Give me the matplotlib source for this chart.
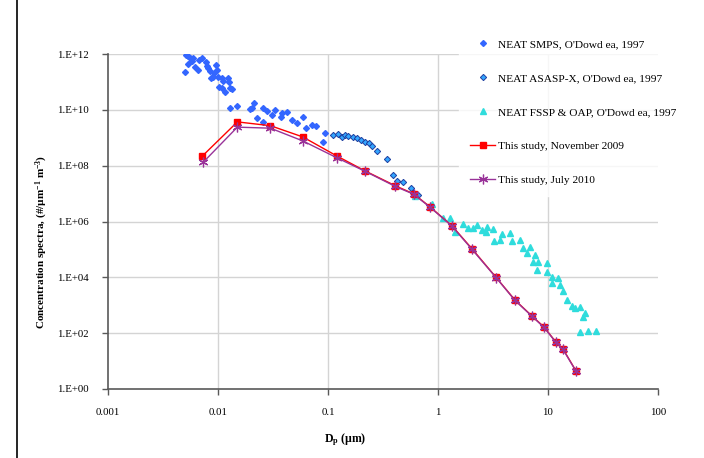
import matplotlib
matplotlib.use("Agg")
import matplotlib.pyplot as plt
from matplotlib.lines import Line2D
import numpy as np

plt.rcParams['font.family'] = ['Liberation Serif', 'DejaVu Serif']
plt.rcParams['mathtext.fontset'] = 'custom'
plt.rcParams['mathtext.rm'] = 'Liberation Serif'
plt.rcParams['mathtext.bf'] = 'Liberation Serif:bold'
plt.rcParams['mathtext.it'] = 'Liberation Serif:italic'

# NEAT SMPS, O'Dowd ea, 1997
smps_x = [0.0051, 0.0053, 0.0056, 0.0059, 0.0058, 0.0053, 0.0050, 0.0062, 0.0066, 0.0067,
          0.0072, 0.0078, 0.0079, 0.0081, 0.0085, 0.0096, 0.0098, 0.0092, 0.0086, 0.0090,
          0.0100, 0.0109, 0.0111, 0.0123, 0.0126, 0.0102, 0.0109, 0.0116, 0.0129, 0.0134,
          0.0129, 0.0149, 0.0195, 0.0212, 0.0204, 0.0226, 0.0257, 0.0257, 0.0279, 0.031,
          0.033, 0.038, 0.042, 0.037, 0.047, 0.052, 0.059, 0.063, 0.072, 0.078,
          0.094, 0.090]
smps_y = [9.3e11, 8.7e11, 7.3e11, 7.3e11, 5.7e11, 4.5e11, 2.3e11, 3.5e11, 2.7e11, 6.2e11,
          7.3e11, 5.3e11, 3.8e11, 3.2e11, 2.5e11, 4.1e11, 2.7e11, 2.1e11, 1.4e11, 1.5e11,
          1.5e11, 1.4e11, 1.1e11, 1.4e11, 1.0e11, 6.6e10, 6.1e10, 4.4e10, 6.1e10, 5.6e10,
          1.2e10, 1.4e10, 1.1e10, 1.7e10, 1.2e10, 5.2e9, 1.2e10, 3.7e9, 9.2e9, 6.6e9,
          1.0e10, 7.8e9, 8.5e9, 5.6e9, 4.4e9, 3.4e9, 5.6e9, 2.3e9, 2.9e9, 2.7e9,
          1.5e9, 7.1e8]

# NEAT ASASP-X, O'Dowd ea, 1997
asasp_x = [0.111, 0.123, 0.134, 0.143, 0.152, 0.169, 0.184, 0.20, 0.217, 0.236,
           0.251, 0.279, 0.344, 0.39, 0.424, 0.481, 0.569, 0.593, 0.658]
asasp_y = [1.3e9, 1.4e9, 1.07e9, 1.3e9, 1.2e9, 1.07e9, 1.0e9, 8.4e8, 7.1e8, 6.6e8,
           5.1e8, 3.4e8, 1.7e8, 4.7e7, 2.9e7, 2.6e7, 1.6e7, 1.07e7, 8.9e6]

# NEAT FSSP & OAP, O'Dowd ea, 1997
fssp_x = [0.62, 0.88, 1.11, 1.29, 1.43, 1.69, 1.87, 2.08, 2.26, 2.51,
          2.79, 3.16, 2.73, 3.82, 3.23, 3.66, 4.52, 4.71, 5.56, 5.93,
          6.44, 6.86, 7.62, 8.11, 7.31, 7.94, 9.8, 9.8, 10.9, 12.3,
          10.9, 12.9, 13.7, 14.9, 16.5, 17.6, 19.5, 21.7, 20.8, 19.5,
          23.1, 27.3]
fssp_y = [8.3e6, 4.3e6, 1.35e6, 1.35e6, 4.2e5, 8.2e5, 5.9e5, 5.9e5, 7.6e5, 5.0e5,
          6.4e5, 5.4e5, 4.2e5, 3.6e5, 2.0e5, 2.2e5, 3.9e5, 2.0e5, 2.2e5, 1.1e5,
          7.5e4, 1.2e5, 6.3e4, 3.5e4, 3.5e4, 1.85e4, 3.3e4, 1.55e4, 1.0e4, 9.5e3,
          6.3e3, 5.3e3, 3.2e3, 1.55e3, 9.4e2, 8.0e2, 8.7e2, 5.3e2, 3.8e2, 1.1e2,
          1.2e2, 1.2e2]

# This study, November 2009
nov_x = [0.0072, 0.015, 0.030, 0.059, 0.121, 0.217, 0.41, 0.60, 0.85, 1.34,
         2.04, 3.37, 5.0, 7.16, 9.2, 11.8, 13.7, 18.0]
nov_y = [2.2e8, 3.7e9, 2.7e9, 1.07e9, 2.2e8, 6.5e7, 1.9e7, 9.8e6, 3.3e6, 7.0e5,
         1.05e5, 1.0e4, 1.55e3, 4.1e2, 1.67e2, 48, 27, 4.4]

# This study, July 2010
jul_x = [0.0073, 0.015, 0.030, 0.059, 0.121, 0.217, 0.41, 0.60, 0.85, 1.34,
         2.04, 3.37, 5.0, 7.16, 9.2, 11.8, 13.7, 18.0]
jul_y = [1.3e8, 2.4e9, 2.2e9, 7.7e8, 1.9e8, 6.3e7, 1.8e7, 9.5e6, 3.2e6, 6.8e5,
         1.0e5, 9.8e3, 1.5e3, 4.0e2, 1.6e2, 47, 26, 4.3]

xticks = [0.001, 0.01, 0.1, 1, 10, 100]
xticklabels = ['0.001', '0.01', '0.1', '1', '10', '100']
yticks = [1e0, 1e2, 1e4, 1e6, 1e8, 1e10, 1e12]
yticklabels = ['1.E+00', '1.E+02', '1.E+04', '1.E+06', '1.E+08', '1.E+10', '1.E+12']

fig = plt.figure(figsize=(7.04, 4.58), dpi=100)
ax = fig.add_axes([108/704, 1 - 389/458, 550/704, 335/458])
ax.set_xscale('log')
ax.set_yscale('log')
ax.set_xlim(0.001, 100)
ax.set_ylim(1, 1e12)

ax.plot(smps_x, smps_y, 'D', ms=3.0, color='#3366ff', mec='#3366ff', ls='none',
        label="NEAT SMPS, O'Dowd ea, 1997", zorder=3)
ax.plot(asasp_x, asasp_y, 'D', ms=3.2, color='#33a6ff', mec='#1f3f9f', mew=0.7, ls='none',
        label="NEAT ASASP-X, O'Dowd ea, 1997", zorder=3)
ax.plot(fssp_x, fssp_y, '^', ms=4.3, color='#2fdcdc', mec='#2fdcdc', ls='none',
        label="NEAT FSSP & OAP, O'Dowd ea, 1997", zorder=3)
ax.plot(nov_x, nov_y, '-s', color='#ff0000', lw=1.0, ms=3.8, mec='#ff0000',
        label='This study, November 2009', zorder=4)
ax.plot(jul_x, jul_y, '-', marker=(6, 2, 0), color='#993399', lw=1.0, ms=7, mew=0.9,
        label='This study, July 2010', zorder=5)

ax.set_xticks(xticks)
ax.set_xticklabels(xticklabels)
ax.set_yticks(yticks)
ax.set_yticklabels(yticklabels)
ax.minorticks_off()
ax.tick_params(axis='both', labelsize=7.8, length=4, width=1, color='#595959', pad=10)

ax.grid(True, color='#d4d4d4', lw=1)
ax.set_axisbelow(True)
ax.xaxis.get_gridlines()[-1].set_visible(False)
ax.xaxis.get_gridlines()[0].set_visible(False)
ax.yaxis.get_gridlines()[0].set_visible(False)

for s in ['top', 'right']:
    ax.spines[s].set_visible(False)
for s in ['left', 'bottom']:
    ax.spines[s].set_color('#595959')
    ax.spines[s].set_linewidth(1.2)

fig.text(42/704, 1 - 242/458, r'Concentration spectra, (#/µm$^{\mathbf{-1}}$ m$^{\mathbf{-3}}$)',
         rotation=90, ha='center', va='center', fontsize=8, fontweight='bold')
fig.text(345/704, 1 - 440/458, r'D$_{\mathbf{p}}$ (µm)', ha='center', va='center',
         fontsize=8.5, fontweight='bold')

leg = fig.legend(loc='upper left', bbox_to_anchor=(459/704, 1 - 28/458), fontsize=8.2,
                 frameon=True, fancybox=False, borderpad=1.0, borderaxespad=0,
                 labelspacing=2.1, handlelength=2.2, handletextpad=0.2)
leg.get_frame().set_facecolor('white')
leg.get_frame().set_edgecolor('white')
leg.set_zorder(10)

fig.add_artist(Line2D([17/704, 17/704], [0, 1], color='black', lw=1.2))

fig.savefig('out.png', dpi=100)
